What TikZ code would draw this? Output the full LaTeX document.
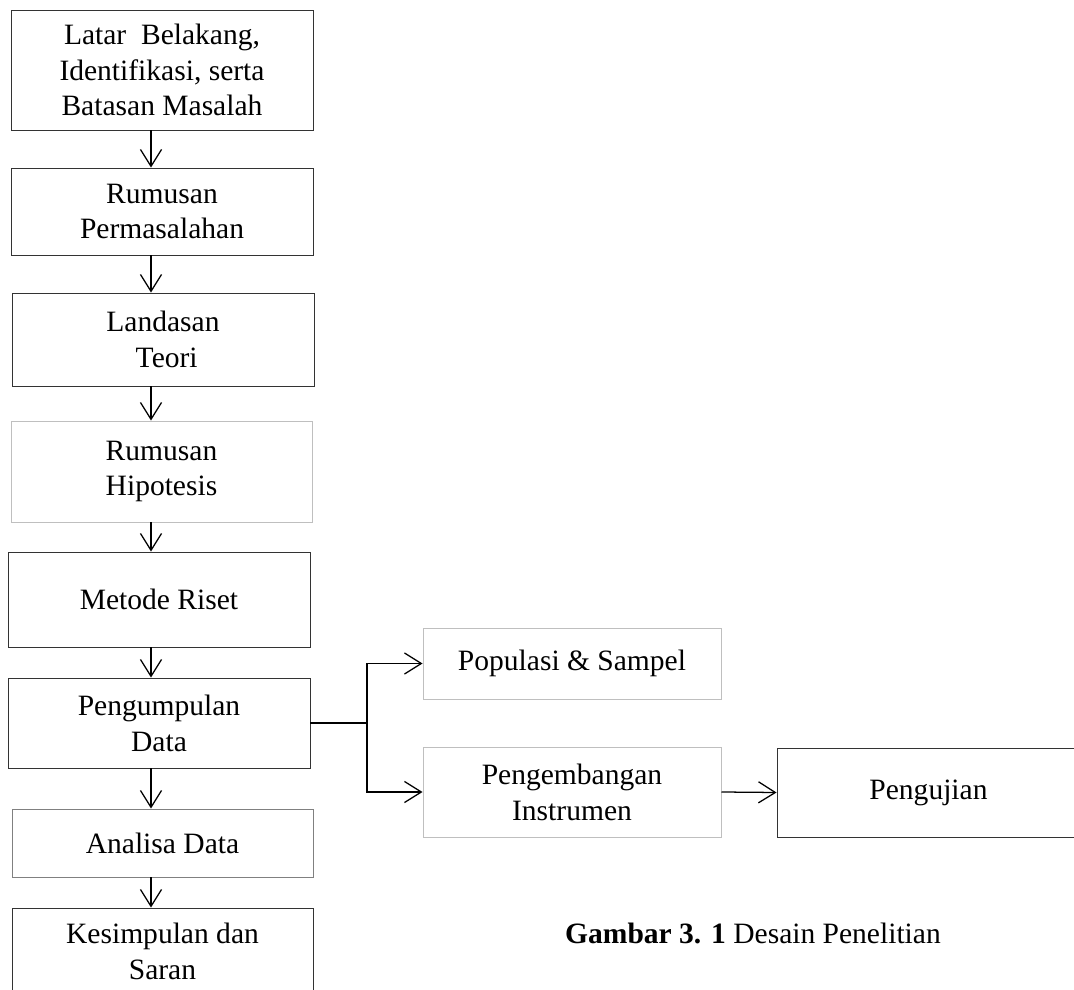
\documentclass[tikz,border=0pt]{standalone}
\usepackage{fontspec}
\setmainfont{Liberation Serif}
\usetikzlibrary{arrows.meta}

\begin{document}
\begin{tikzpicture}[
    x=0.025cm, y=-0.025cm,
    box/.style={draw=black!80, line width=0.7pt, align=center, inner sep=0pt,
      font=\fontsize{21}{25.5}\selectfont},
    boxL/.style={box, draw=black!25},
    boxM/.style={box, draw=black!50},
    sz/.style 2 args={minimum width=#1*0.025cm, minimum height=#2*0.025cm},
    arr/.style={-{Straight Barb[length=12pt,width=15pt]}, line width=0.9pt},
    ln/.style={line width=0.9pt},
    txt/.style={font=\fontsize{21}{25.5}\selectfont},
]
\useasboundingbox (0,0) rectangle (1074,990);
\clip (0,0) rectangle (1074,990);
\coordinate (col) at (151,0);
\node[box, sz={302}{120}] (latar) at (162,70) {Latar\ \ Belakang,\\Identifikasi, serta\\Batasan Masalah};
\node[box, sz={302}{87}] (rumus) at (162,211.5) {Rumusan\\Permasalahan};
\node[box, sz={302}{93}] (teori) at (163,339.5) {Landasan\\\ Teori};
\node[boxL, sz={301}{101}] (hipo) at (161.5,471.5) {Rumusan\\Hipotesis};
\node[box, sz={302}{95}] (metode) at (159,599.5) {Metode Riset};
\node[box, sz={302}{90}] (kumpul) at (159,723) {Pengumpulan\\Data};
\node[boxM, sz={301}{68}] (analisa) at (162.5,843) {Analisa Data};
\node[box, sz={301}{86}] (simpul) at (162.5,951) {Kesimpulan dan\\Saran};
\node[boxL, sz={298}{71}] (pop) at (572,663.5) {Populasi \& Sampel};
\node[boxL, sz={298}{90}] (instr) at (572,792) {Pengembangan\\Instrumen};
\node[box, sz={303}{89}] (uji) at (928.5,792.5) {Pengujian};
\coordinate (fork) at (367,723);
\node[txt, anchor=base] (cap) at (753,943) {\textbf{Gambar 3. 1} Desain Penelitian};
\draw[arr] (latar.south -| col) -- (rumus.north -| col);
\draw[arr] (rumus.south -| col) -- (teori.north -| col);
\draw[arr] (teori.south -| col) -- (hipo.north -| col);
\draw[arr] (hipo.south -| col) -- (metode.north -| col);
\draw[arr] (metode.south -| col) -- (kumpul.north -| col);
\draw[arr] (kumpul.south -| col) -- (analisa.north -| col);
\draw[arr] (analisa.south -| col) -- (simpul.north -| col);
\draw[ln] (kumpul.east) -- (fork);
\draw[arr] (fork) |- (pop.west);
\draw[arr] (fork) |- (instr.west);
\draw[arr] (instr.east) -- (uji.west);
\end{tikzpicture}
\end{document}
